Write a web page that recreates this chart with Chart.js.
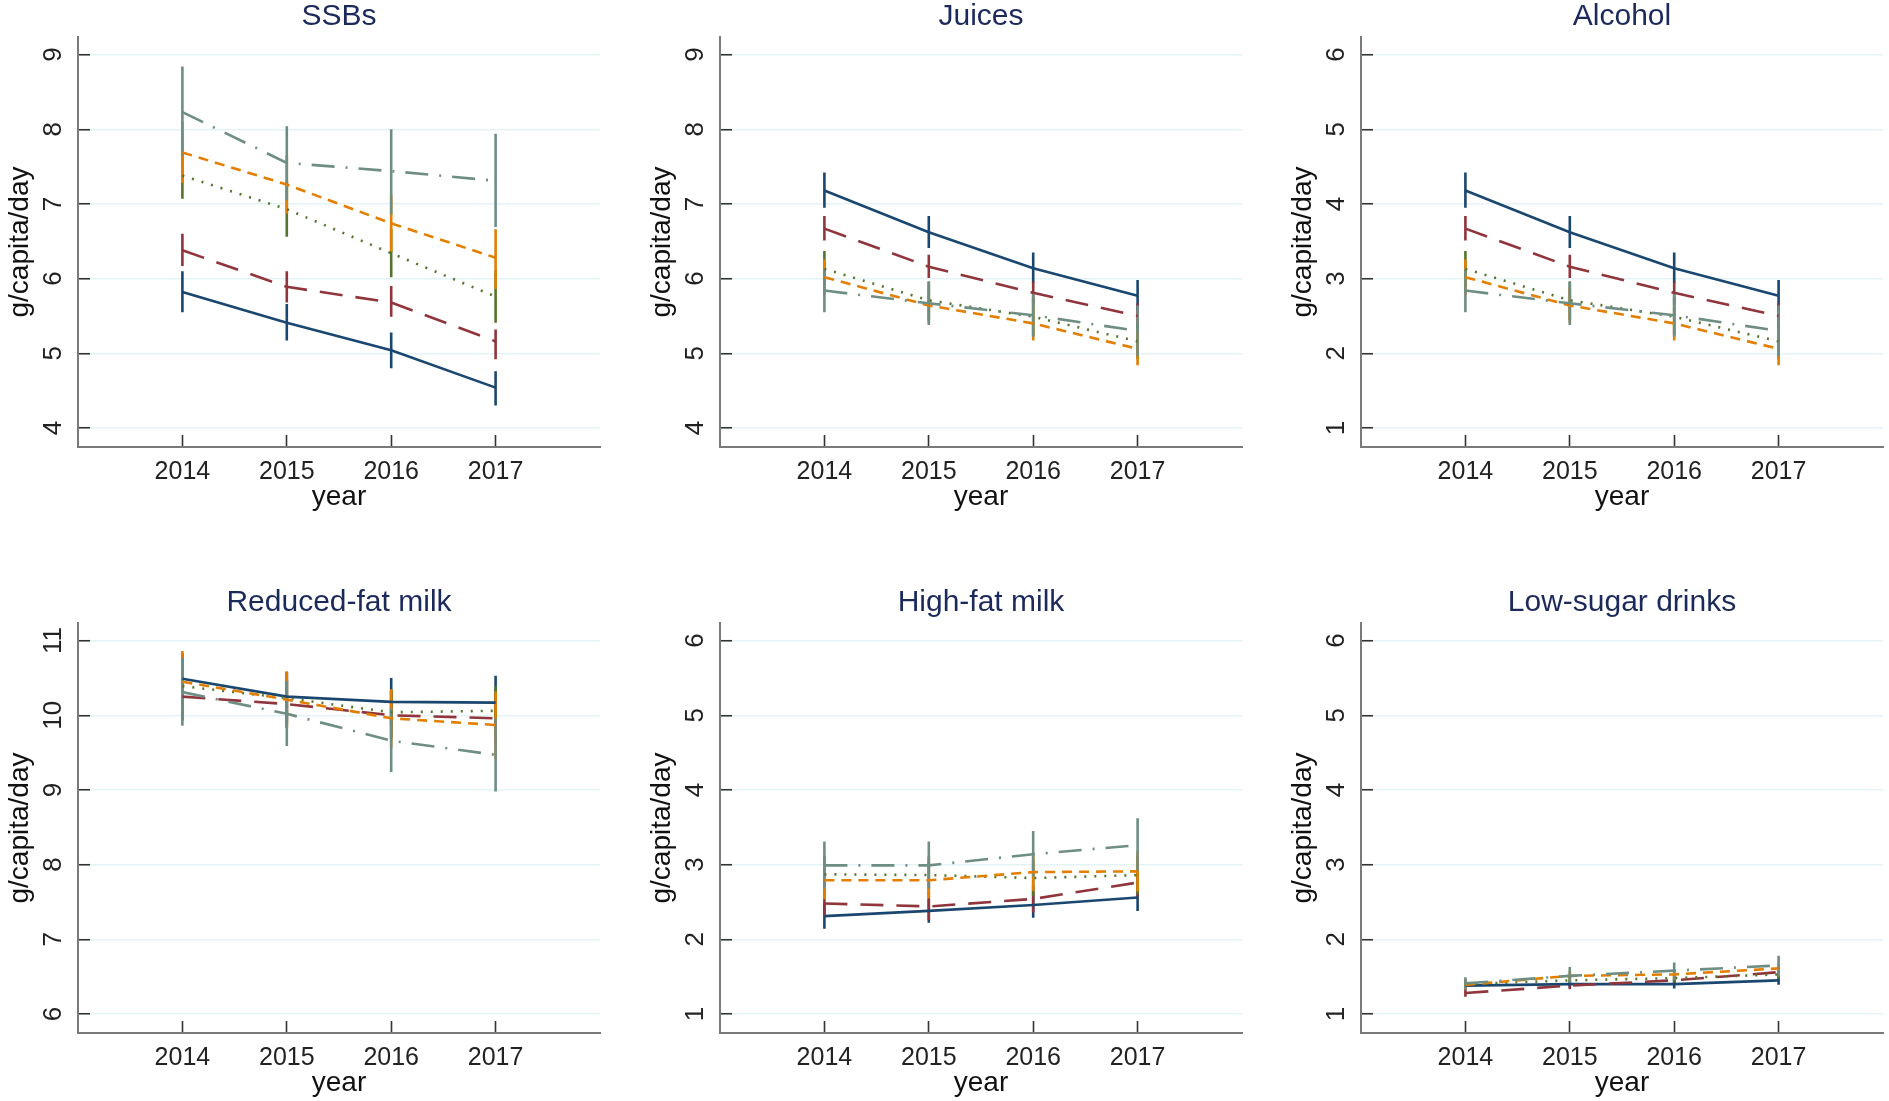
<!DOCTYPE html>
<html>
<head>
<meta charset="utf-8">
<script src="https://cdn.jsdelivr.net/npm/chart.js@4.4.1/dist/chart.umd.min.js"></script>
<style>
html,body{margin:0;padding:0;background:#fff;width:1889px;height:1101px;overflow:hidden}
.panel{position:absolute;width:603px;height:515px}
.panel canvas{display:block}
</style>
</head>
<body>
<script>
// ---------- data ----------
const years = [2014, 2015, 2016, 2017];
const seriesNames = ['Group 1', 'Group 2', 'Group 3', 'Group 4', 'Group 5'];
const panelTitles = ['SSBs', 'Juices', 'Alcohol', 'Reduced-fat milk', 'High-fat milk', 'Low-sugar drinks'];
const yAxisLabel = 'g/capita/day';
const xAxisLabel = 'year';

const ticksSSBs = [4, 5, 6, 7, 8, 9];
const ticksJuices = [4, 5, 6, 7, 8, 9];
const ticksAlcohol = [1, 2, 3, 4, 5, 6];
const ticksReduced = [6, 7, 8, 9, 10, 11];
const ticksHighFat = [1, 2, 3, 4, 5, 6];
const ticksLowSugar = [1, 2, 3, 4, 5, 6];

// series order: navy, maroon, forest green, dark orange, teal
const ssbsMean = [[5.82,5.41,5.04,4.54],[6.38,5.89,5.68,5.16],[7.38,6.93,6.34,5.76],[7.69,7.26,6.74,6.28],[8.23,7.55,7.44,7.31]];
const ssbsLow  = [[5.55,5.17,4.80,4.30],[6.17,5.68,5.49,4.92],[7.07,6.56,6.02,5.41],[7.28,6.87,6.36,5.86],[7.65,7.05,6.86,6.69]];
const ssbsHigh = [[6.10,5.66,5.28,4.76],[6.60,6.10,5.90,5.32],[7.68,7.30,6.66,6.11],[8.10,7.65,7.12,6.66],[8.84,8.04,8.00,7.94]];

const juicesMean = [[7.18,6.62,6.14,5.77],[6.67,6.16,5.81,5.50],[6.13,5.71,5.49,5.16],[6.02,5.64,5.40,5.06],[5.84,5.67,5.51,5.30]];
const juicesLow  = [[6.95,6.41,5.94,5.55],[6.51,6.01,5.65,5.33],[5.88,5.45,5.24,4.92],[5.78,5.41,5.17,4.84],[5.55,5.38,5.22,4.96]];
const juicesHigh = [[7.42,6.84,6.35,5.98],[6.84,6.32,5.96,5.67],[6.37,5.96,5.74,5.40],[6.26,5.88,5.62,5.29],[6.13,5.96,5.82,5.64]];

const alcoholMean = [[4.18,3.62,3.14,2.77],[3.67,3.16,2.81,2.50],[3.13,2.71,2.49,2.16],[3.02,2.64,2.40,2.06],[2.84,2.67,2.51,2.30]];
const alcoholLow  = [[3.95,3.41,2.94,2.55],[3.51,3.01,2.65,2.33],[2.88,2.45,2.24,1.92],[2.78,2.41,2.17,1.84],[2.55,2.38,2.22,1.96]];
const alcoholHigh = [[4.42,3.84,3.35,2.98],[3.84,3.32,2.96,2.67],[3.37,2.96,2.74,2.40],[3.26,2.88,2.62,2.29],[3.13,2.96,2.82,2.64]];

const reducedMean = [[10.49,10.25,10.18,10.17],[10.25,10.15,10.00,9.96],[10.39,10.23,10.04,10.06],[10.45,10.21,9.96,9.87],[10.31,10.02,9.66,9.47]];
const reducedLow  = [[10.15,9.92,9.86,9.81],[9.93,9.83,9.68,9.62],[10.03,9.88,9.71,9.73],[10.04,9.83,9.57,9.42],[9.86,9.59,9.24,8.98]];
const reducedHigh = [[10.83,10.58,10.50,10.53],[10.57,10.47,10.32,10.30],[10.75,10.57,10.34,10.39],[10.86,10.59,10.35,10.32],[10.77,10.46,10.09,9.96]];

const highFatMean = [[2.31,2.38,2.46,2.56],[2.48,2.44,2.54,2.76],[2.87,2.86,2.82,2.86],[2.79,2.79,2.90,2.91],[2.99,2.99,3.14,3.26]];
const highFatLow  = [[2.14,2.22,2.29,2.38],[2.30,2.26,2.36,2.57],[2.62,2.61,2.58,2.60],[2.54,2.55,2.65,2.64],[2.68,2.68,2.84,2.91]];
const highFatHigh = [[2.48,2.54,2.63,2.74],[2.66,2.62,2.72,2.95],[3.12,3.11,3.06,3.12],[3.04,3.03,3.15,3.18],[3.31,3.31,3.45,3.62]];

const lowSugarMean = [[1.38,1.40,1.40,1.45],[1.28,1.38,1.45,1.56],[1.40,1.45,1.48,1.53],[1.39,1.51,1.53,1.61],[1.41,1.51,1.58,1.65]];
const lowSugarLow  = [[1.33,1.35,1.34,1.39],[1.23,1.33,1.40,1.50],[1.34,1.39,1.42,1.47],[1.33,1.44,1.46,1.54],[1.32,1.39,1.46,1.50]];
const lowSugarHigh = [[1.43,1.45,1.46,1.51],[1.33,1.43,1.50,1.62],[1.46,1.51,1.54,1.59],[1.45,1.58,1.60,1.68],[1.49,1.63,1.69,1.78]];

// ---------- styles ----------
const colors = ['#1a476f', '#90353b', '#55752f', '#e37e00', '#6e8e84'];
const dashes = [[], [23, 13], [2, 8], [10, 7], [23, 11, 2, 11]];
const FONT = "'Liberation Sans', Arial, Helvetica, sans-serif";

const panels = [
  {title: panelTitles[0], mean: ssbsMean, low: ssbsLow, high: ssbsHigh, ticks: ticksSSBs},
  {title: panelTitles[1], mean: juicesMean, low: juicesLow, high: juicesHigh, ticks: ticksJuices},
  {title: panelTitles[2], mean: alcoholMean, low: alcoholLow, high: alcoholHigh, ticks: ticksAlcohol},
  {title: panelTitles[3], mean: reducedMean, low: reducedLow, high: reducedHigh, ticks: ticksReduced},
  {title: panelTitles[4], mean: highFatMean, low: highFatLow, high: highFatHigh, ticks: ticksHighFat},
  {title: panelTitles[5], mean: lowSugarMean, low: lowSugarLow, high: lowSugarHigh, ticks: ticksLowSugar}
];

const colLefts = [0, 642, 1283];
const rowTops = [0, 586];

// panel title + rotated (Stata-style) y tick labels taken from the y scale's ticks
const panelDecor = {
  id: 'panelDecor',
  afterDraw(chart, args, opts) {
    const {ctx, chartArea} = chart;
    const ys = chart.scales.y;
    ctx.save();
    ctx.font = "30px " + FONT;
    ctx.fillStyle = '#1c2a5b';
    ctx.textAlign = 'center';
    ctx.textBaseline = 'middle';
    ctx.fillText(opts.text, (chartArea.left + chartArea.right) / 2, 17);
    ctx.font = "26px " + FONT;
    ctx.fillStyle = '#222';
    ys.ticks.forEach(t => {
      const py = ys.getPixelForValue(t.value);
      ctx.save();
      ctx.translate(ys.right - 25, py);
      ctx.rotate(-Math.PI / 2);
      ctx.fillText(String(t.value), 0, 1);
      ctx.restore();
    });
    ctx.restore();
  }
};

panels.forEach((p, idx) => {
  const div = document.createElement('div');
  div.className = 'panel';
  div.style.left = colLefts[idx % 3] + 'px';
  div.style.top = rowTops[Math.floor(idx / 3)] + 'px';
  const canvas = document.createElement('canvas');
  canvas.width = 603; canvas.height = 515;
  canvas.style.width = '603px'; canvas.style.height = '515px';
  div.appendChild(canvas);
  document.body.appendChild(div);

  const datasets = [];
  p.mean.forEach((m, s) => {
    datasets.push({
      type: 'line', label: seriesNames[s],
      data: years.map((y, i) => ({x: y, y: m[i]})),
      borderColor: colors[s], borderWidth: 2.6, borderDash: dashes[s],
      pointRadius: 0, tension: 0, fill: false, order: 10 - s
    });
    const ci = [];
    years.forEach((y, i) => {
      ci.push({x: y, y: p.low[s][i]}, {x: y, y: p.high[s][i]}, {x: y, y: null});
    });
    datasets.push({
      type: 'line', label: seriesNames[s] + ' 95% CI',
      data: ci, borderColor: colors[s], borderWidth: 2.6, borderDash: [],
      pointRadius: 0, spanGaps: false, fill: false, order: 20 - s
    });
  });

  const tks = p.ticks;

  new Chart(canvas, {
    type: 'line',
    data: {datasets},
    plugins: [panelDecor],
    options: {
      responsive: false, animation: false, devicePixelRatio: 1,
      layout: {padding: {top: 37, right: 3, left: 0, bottom: 0}},
      plugins: {legend: {display: false}, tooltip: {enabled: false}, panelDecor: {text: p.title}},
      scales: {
        x: {
          type: 'linear', min: 2013, max: 2018, offset: false,
          afterBuildTicks: s => { s.ticks = years.map(v => ({value: v})); },
          afterFit: s => { s.height = 68; },
          grid: {drawOnChartArea: false, drawTicks: true, tickLength: -12, tickColor: '#333', tickWidth: 1.6, offset: false},
          border: {display: true, color: '#7a7a7a', width: 2},
          ticks: {autoSkip: false, minRotation: 0, maxRotation: 0, padding: 22, color: '#222',
                  font: {family: FONT, size: 25}, callback: v => String(v)},
          title: {display: true, text: xAxisLabel, color: '#111', font: {family: FONT, size: 28}, padding: {top: 0, bottom: 1}}
        },
        y: {
          type: 'linear', min: tks[0] - 0.255, max: tks[tks.length - 1] + 0.236,
          afterBuildTicks: s => { s.ticks = tks.map(v => ({value: v})); },
          afterFit: s => { s.width = 78; },
          grid: {color: '#e4f3f6', lineWidth: 1.5, drawTicks: true, tickLength: -12, tickColor: '#333', tickWidth: 1.6},
          border: {display: true, color: '#7a7a7a', width: 2},
          ticks: {display: false, autoSkip: false},
          title: {display: true, text: yAxisLabel, color: '#111', font: {family: FONT, size: 28}, padding: {top: 3, bottom: 0}}
        }
      }
    }
  });
});
</script>
</body>
</html>
